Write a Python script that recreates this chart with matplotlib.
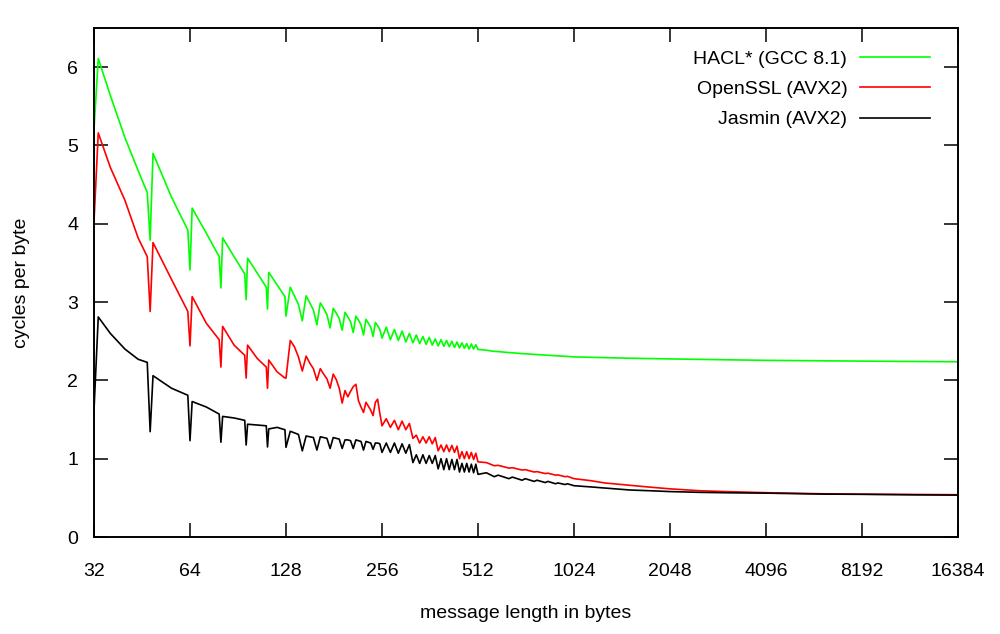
import matplotlib
matplotlib.use("Agg")
import matplotlib.pyplot as plt
from matplotlib.ticker import NullLocator

# message lengths (bytes) at which the curves are drawn
msg_len = [32,
           33, 36, 40, 44, 47, 48, 49, 56, 63, 64, 65, 72, 79, 80, 81, 88, 95, 96,
           97, 104, 111, 112, 113, 120, 127, 128,
           132, 136, 140, 144, 148, 152, 156, 160, 164, 168, 172, 176,
           180, 184, 188, 192, 196, 200, 204, 208, 212, 216, 220, 224,
           228, 232, 236, 240, 244, 248, 252, 256,
           264, 272, 280, 288, 296, 304, 312, 320, 328, 336, 344, 352,
           360, 368, 376, 384, 392, 400, 408, 416, 424, 432, 440, 448,
           456, 464, 472, 480, 488, 496, 504, 512,
           544, 576, 592, 640, 656, 704, 720, 768, 784, 832, 848, 896,
           912, 960, 976, 1024,
           1152, 1280, 1536, 1792, 2048, 2560, 3072, 4096, 6144, 8192,
           12288, 16384]

hacl = [5.20,
        6.11, 5.64, 5.10, 4.68, 4.40, 3.79, 4.90, 4.34, 3.92, 3.41, 4.20, 3.88, 3.58, 3.18,
        3.82, 3.58, 3.36, 3.03, 3.56, 3.37, 3.19, 2.91, 3.38, 3.22, 3.07, 2.82,
        3.19, 3.08, 2.97, 2.76, 3.08, 2.99, 2.90, 2.71, 2.99, 2.92, 2.84, 2.67,
        2.92, 2.86, 2.79, 2.64, 2.87, 2.81, 2.75, 2.61, 2.82, 2.77, 2.71, 2.58,
        2.78, 2.73, 2.68, 2.56, 2.74, 2.70, 2.65, 2.54,
        2.68, 2.52, 2.65, 2.51, 2.63, 2.49, 2.60, 2.48, 2.58, 2.47, 2.56, 2.46,
        2.55, 2.45, 2.53, 2.44, 2.52, 2.435, 2.51, 2.43, 2.50, 2.42, 2.49, 2.415,
        2.48, 2.41, 2.47, 2.40, 2.465, 2.40, 2.455, 2.395,
        2.385, 2.37, 2.368, 2.355, 2.352, 2.342, 2.340, 2.332, 2.330, 2.323,
        2.321, 2.315, 2.313, 2.308, 2.306, 2.300,
        2.295, 2.290, 2.283, 2.278, 2.274, 2.268, 2.263, 2.256, 2.250, 2.246,
        2.241, 2.238]

openssl = [4.03,
           5.16, 4.72, 4.30, 3.82, 3.58, 2.88, 3.76, 3.29, 2.88, 2.44, 3.07, 2.73, 2.52, 2.17,
           2.69, 2.45, 2.32, 2.03, 2.45, 2.28, 2.17, 1.90, 2.26, 2.11, 2.03, 2.03,
           2.51, 2.43, 2.30, 2.12, 2.31, 2.22, 2.15, 2.00, 2.15, 2.08, 2.02, 1.90,
           2.08, 2.01, 1.90, 1.71, 1.87, 1.79, 1.86, 1.92, 1.95, 1.74, 1.66, 1.59,
           1.72, 1.67, 1.62, 1.55, 1.72, 1.76, 1.58, 1.42,
           1.51, 1.40, 1.49, 1.37, 1.48, 1.37, 1.45, 1.26, 1.30, 1.20, 1.28, 1.20,
           1.28, 1.19, 1.27, 1.10, 1.175, 1.09, 1.175, 1.09, 1.17, 1.08, 1.16, 1.00,
           1.09, 1.00, 1.09, 1.00, 1.08, 0.99, 1.07, 0.96,
           0.95, 0.91, 0.915, 0.88, 0.885, 0.855, 0.86, 0.83, 0.835, 0.81,
           0.815, 0.79, 0.793, 0.77, 0.775, 0.745,
           0.72, 0.69, 0.66, 0.635, 0.615, 0.59, 0.58, 0.566, 0.552, 0.547,
           0.543, 0.54]

jasmin = [1.62,
          2.81, 2.60, 2.40, 2.27, 2.23, 1.345, 2.06, 1.90, 1.81, 1.23, 1.73, 1.66, 1.57, 1.21,
          1.54, 1.52, 1.49, 1.175, 1.44, 1.43, 1.42, 1.15, 1.38, 1.40, 1.37, 1.145,
          1.35, 1.33, 1.31, 1.10, 1.29, 1.28, 1.27, 1.11, 1.28, 1.27, 1.26, 1.13,
          1.27, 1.26, 1.25, 1.13, 1.24, 1.24, 1.23, 1.13, 1.24, 1.23, 1.22, 1.11,
          1.22, 1.21, 1.20, 1.12, 1.20, 1.20, 1.19, 1.08,
          1.20, 1.08, 1.20, 1.07, 1.19, 1.07, 1.18, 0.95, 1.05, 0.94, 1.05, 0.94,
          1.04, 0.94, 1.04, 0.87, 1.00, 0.86, 1.00, 0.86, 0.99, 0.86, 0.99, 0.83,
          0.94, 0.83, 0.94, 0.83, 0.93, 0.82, 0.93, 0.80,
          0.82, 0.77, 0.79, 0.745, 0.765, 0.725, 0.745, 0.71, 0.725, 0.695,
          0.71, 0.68, 0.69, 0.67, 0.68, 0.655,
          0.64, 0.625, 0.60, 0.59, 0.58, 0.57, 0.565, 0.56, 0.548, 0.545,
          0.538, 0.535]

series_labels = ["HACL* (GCC 8.1)", "OpenSSL (AVX2)", "Jasmin (AVX2)"]
series_colors = ["#00ff00", "#ff0000", "#000000"]
x_ticks = [32, 64, 128, 256, 512, 1024, 2048, 4096, 8192, 16384]
y_ticks = [0, 1, 2, 3, 4, 5, 6]

plt.rcParams['font.family'] = ['Liberation Sans', 'DejaVu Sans']

fig = plt.figure(figsize=(10, 6.34), dpi=100)
ax = fig.add_axes([0.094, 1 - 537 / 634, 0.864, 509 / 634])

for ys, lab, col in zip([hacl, openssl, jasmin], series_labels, series_colors):
    ax.plot(msg_len, ys, color=col, lw=1.2, label=lab)

ax.set_xscale('log', base=2)
ax.set_xlim(32, 16384)
ax.set_ylim(0, 6.5)
ax.set_xticks(x_ticks)
ax.set_xticklabels([str(t) for t in x_ticks])
ax.xaxis.set_minor_locator(NullLocator())
ax.set_yticks(y_ticks)
ax.set_yticklabels([str(t) for t in y_ticks])

ax.tick_params(axis='both', which='major', direction='in', length=10, width=1.1,
               top=True, right=True, labelsize=14, colors='black')
ax.tick_params(axis='x', pad=18.5)
ax.tick_params(axis='y', pad=11.5)
for s in ax.spines.values():
    s.set_linewidth(1.4)

ax.set_xlabel("message length in bytes", fontsize=14, va='center')
ax.xaxis.set_label_coords(0.5, (537 - 614) / 509)
ax.set_ylabel("cycles per byte", fontsize=14, va='center')
ax.yaxis.set_label_coords((22 - 94) / 864, 0.5)

ax.legend(loc='upper right', bbox_to_anchor=((930 - 94) / 864, (537 - 50.6) / 509),
          frameon=False, markerfirst=False, handlelength=3.6, handletextpad=0.65,
          labelspacing=0.64, borderaxespad=0, borderpad=0, fontsize=14)

fig.savefig("out.png", dpi=100)
